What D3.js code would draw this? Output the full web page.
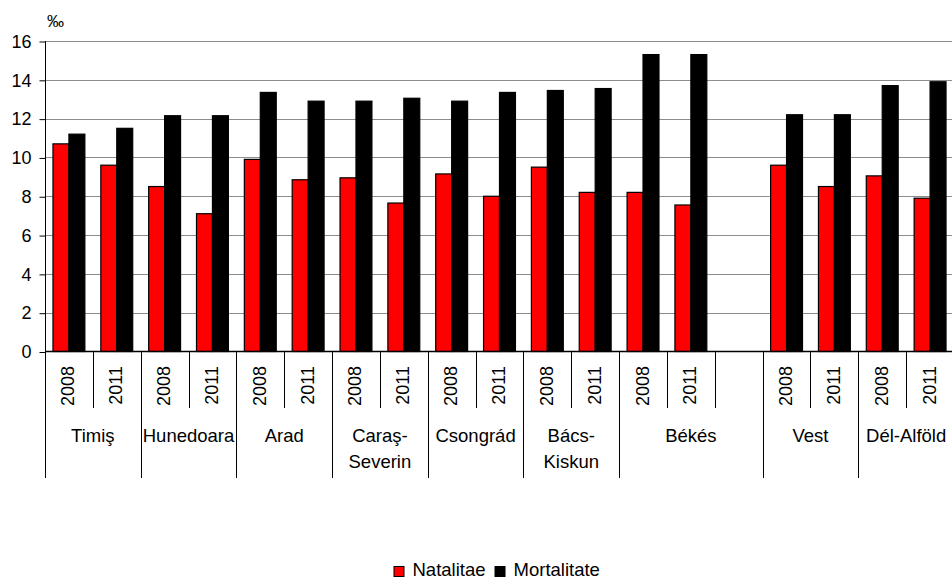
<!DOCTYPE html>
<html>
<head>
<meta charset="utf-8">
<script src="https://cdn.jsdelivr.net/npm/d3@7"></script>
<style>
  html, body { margin: 0; padding: 0; background: #fff; }
  svg { display: block; }
  text { font-family: "Liberation Sans", Arial, sans-serif; fill: #000; }
</style>
</head>
<body>
<svg id="chart" width="952" height="580"></svg>
<script>
// ---- data ----
const slotGroups = ["Timiş","Timiş","Hunedoara","Hunedoara","Arad","Arad","Caraş-Severin","Caraş-Severin",
  "Csongrád","Csongrád","Bács-Kiskun","Bács-Kiskun","Békés","Békés","Békés","Vest","Vest","Dél-Alföld","Dél-Alföld"];
const slotYears = ["2008","2011","2008","2011","2008","2011","2008","2011","2008","2011",
  "2008","2011","2008","2011","","2008","2011","2008","2011"];
const natalitate = [10.7, 9.6, 8.5, 7.1, 9.9, 8.85, 8.95, 7.65, 9.15, 8.0, 9.5, 8.2, 8.2, 7.55, null, 9.6, 8.5, 9.05, 7.9];
const mortalitate = [11.2, 11.5, 12.15, 12.15, 13.35, 12.9, 12.9, 13.05, 12.9, 13.35, 13.45, 13.55, 15.3, 15.3, null, 12.2, 12.2, 13.7, 13.9];
const groupNames = ["Timiş","Hunedoara","Arad","Caraş-Severin","Csongrád","Bács-Kiskun","Békés","Vest","Dél-Alföld"];
const groupLabelLines = [["Timiş"],["Hunedoara"],["Arad"],["Caraş-","Severin"],["Csongrád"],["Bács-","Kiskun"],["Békés"],["Vest"],["Dél-Alföld"]];
const yTicks = [0, 2, 4, 6, 8, 10, 12, 14, 16];
const seriesNames = ["Natalitae", "Mortalitate"];
const seriesColors = ["#ff0000", "#000000"];
const unitLabel = "‰";

// ---- layout ----
const svg = d3.select("#chart");
const plotLeft = 45, plotRight = 954, plotTop = 41, plotBottom = 351.5;
const slotIds = d3.range(slotGroups.length);
const x = d3.scaleBand().domain(slotIds).range([plotLeft, plotRight]).paddingInner(0).paddingOuter(0);
const y = d3.scaleLinear().domain([0, 16]).range([plotBottom, plotTop]);
const inner = d3.scaleBand().domain([0, 1]).range([0, x.bandwidth()]).paddingInner(0).paddingOuter(0.5);

// gridlines
svg.append("g").selectAll("line").data(yTicks.filter(d => d > 0)).join("line")
  .attr("x1", plotLeft).attr("x2", plotRight)
  .attr("y1", d => Math.round(y(d)) + 0.5).attr("y2", d => Math.round(y(d)) + 0.5)
  .attr("stroke", "#8c8c8c").attr("stroke-width", 1);

// y axis
const yAxis = d3.axisLeft(y).tickValues(yTicks).tickSize(6).tickPadding(8).tickFormat(d3.format("d"));
const yg = svg.append("g").attr("transform", `translate(${plotLeft + 0.5},0.5)`).call(yAxis);
yg.select(".domain").remove();
yg.selectAll(".tick line").attr("stroke", "#000");
yg.selectAll(".tick text").attr("font-size", 18).attr("font-family", "Liberation Sans, Arial, sans-serif").attr("fill", "#000");

// bars
const series = [natalitate, mortalitate];
series.forEach((vals, si) => {
  svg.append("g").selectAll("rect").data(slotIds.filter(i => vals[i] != null)).join("rect")
    .attr("x", i => x(i) + inner(si))
    .attr("width", inner.bandwidth())
    .attr("y", i => y(vals[i]))
    .attr("height", i => y(0) - y(vals[i]))
    .attr("fill", seriesColors[si])
    .attr("stroke", "#000").attr("stroke-width", 1.2);
});

// axis lines
svg.append("line").attr("x1", plotLeft).attr("x2", plotRight).attr("y1", plotBottom).attr("y2", plotBottom)
  .attr("stroke", "#000").attr("stroke-width", 1.3);
svg.append("line").attr("x1", plotLeft + 0.5).attr("x2", plotLeft + 0.5).attr("y1", plotTop).attr("y2", 478)
  .attr("stroke", "#000").attr("stroke-width", 1);

// slot separators (short between years, long between groups)
const boundaries = d3.range(1, slotGroups.length + 1);
svg.append("g").selectAll("line").data(boundaries).join("line")
  .attr("x1", i => Math.round(x(i - 1) + x.bandwidth()) + 0.5)
  .attr("x2", i => Math.round(x(i - 1) + x.bandwidth()) + 0.5)
  .attr("y1", plotBottom)
  .attr("y2", i => (i === slotGroups.length || slotGroups[i] !== slotGroups[i - 1]) ? 478 : 408)
  .attr("stroke", "#000").attr("stroke-width", 1);

// year labels
svg.append("g").selectAll("text").data(slotIds.filter(i => slotYears[i] !== "")).join("text")
  .attr("transform", i => `translate(${x(i) + x.bandwidth() / 2 + 5.5},366) rotate(-90)`)
  .attr("text-anchor", "end")
  .attr("font-size", 18)
  .text(i => slotYears[i]);

// group labels
groupNames.forEach((g, gi) => {
  const idx = slotIds.filter(i => slotGroups[i] === g);
  const x0 = x(idx[0]), x1 = x(idx[idx.length - 1]) + x.bandwidth();
  const t = svg.append("text").attr("text-anchor", "middle").attr("font-size", 18.5);
  groupLabelLines[gi].forEach((line, li) => {
    t.append("tspan").attr("x", (x0 + x1) / 2).attr("y", 441.5 + li * 26).text(line);
  });
});

// unit label
svg.append("text").attr("x", 47).attr("y", 27).attr("font-size", 17).text(unitLabel);

// legend
const legend = svg.append("g");
let lx = 393.5;
seriesNames.forEach((name, si) => {
  legend.append("rect").attr("x", lx + 0.5).attr("y", 566.5).attr("width", 10).attr("height", 10)
    .attr("fill", seriesColors[si]).attr("stroke", "#000").attr("stroke-width", 1);
  const t = legend.append("text").attr("x", lx + 19).attr("y", 576).attr("font-size", 18.5).text(name);
  lx = lx + 19 + t.node().getComputedTextLength() + 9;
});
</script>
</body>
</html>
